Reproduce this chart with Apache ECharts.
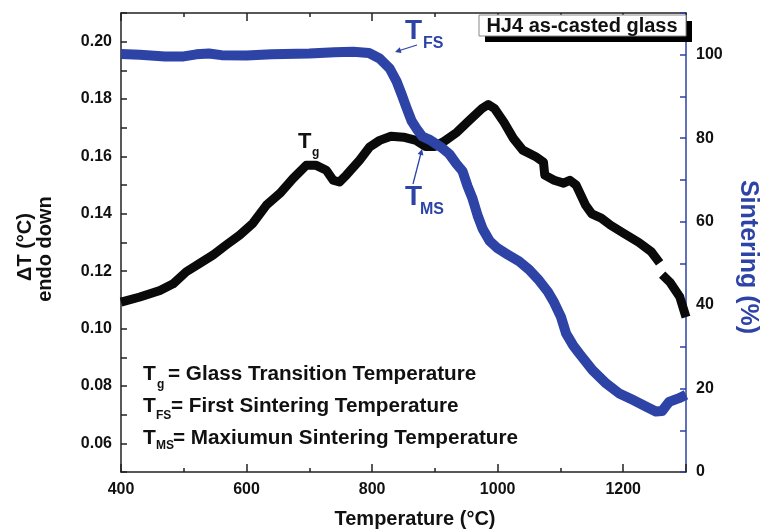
<!DOCTYPE html>
<html>
<head>
<meta charset="utf-8">
<script src="https://cdn.jsdelivr.net/npm/echarts@6/dist/echarts.min.js"></script>
<style>
  html, body { margin: 0; padding: 0; background: #fff; }
  #chart { width: 762px; height: 530px; }
</style>
</head>
<body>
<div id="chart"></div>
<script>
// DTA curve, left axis (ΔT, °C)
const dtaTemp = [400, 430, 462, 483, 504, 526, 547, 568, 589, 610, 632, 653, 674, 695, 711,
  727, 738, 748, 759, 780, 796, 812, 830, 850, 870, 885, 900, 915, 935, 955, 975, 985, 995,
  1010, 1025, 1040, 1060, 1073, 1075, 1090, 1105, 1115, 1125, 1140, 1150, 1165, 1180, 1200,
  1225, 1245, 1258, 1260, 1262, 1275, 1290, 1300];
const dtaValue = [0.1092, 0.111, 0.1133, 0.1156, 0.1198, 0.1228, 0.1257, 0.1292, 0.1326, 0.1367,
  0.1431, 0.1471, 0.1523, 0.1569, 0.1569, 0.1552, 0.1517, 0.1511, 0.1535, 0.1587, 0.1633, 0.1656,
  0.167, 0.1667, 0.1656, 0.1635, 0.1635, 0.1653, 0.1684, 0.1726, 0.1767, 0.1781, 0.1767, 0.1719,
  0.1663, 0.1622, 0.160, 0.158, 0.1535, 0.1517, 0.1507, 0.1517, 0.150, 0.143, 0.140, 0.1385,
  0.136, 0.1333, 0.130, 0.1267, 0.1229, null, 0.1188, 0.116, 0.1111, 0.104];

// sintering curve, right axis (%)
const sinTemp = [400, 430, 470, 500, 520, 540, 560, 600, 640, 700, 740, 770, 795, 812, 828,
  839, 847, 855, 863, 872, 880, 892, 902, 912, 923, 934, 944, 952, 960, 968, 976, 987, 1000,
  1015, 1034, 1050, 1066, 1080, 1090, 1101, 1109, 1120, 1130, 1151, 1173, 1193, 1215, 1236,
  1252, 1262, 1268, 1273, 1289, 1300];
const sinValue = [100.2, 100.0, 99.6, 99.6, 100.1, 100.3, 99.9, 99.8, 100.1, 100.3, 100.6, 100.7,
  100.4, 99.1, 96.7, 93.6, 90.5, 87.2, 84.1, 82.0, 80.4, 79.6, 78.6, 77.6, 76.2, 73.9, 72.1, 68.5,
  65.5, 61.5, 58.3, 55.4, 53.6, 52.2, 50.5, 48.5, 45.9, 43.2, 40.6, 37.1, 33.2, 30.4, 28.4, 24.4,
  21.2, 18.9, 17.3, 15.7, 14.5, 14.6, 15.8, 16.8, 17.7, 18.5];

// tick labels
const xTicks = [400, 600, 800, 1000, 1200];
const leftTicks = [0.06, 0.08, 0.10, 0.12, 0.14, 0.16, 0.18, 0.20];
const rightTicks = [0, 20, 40, 60, 80, 100];

const BLUE = '#2d43a6';
const AXIS = '#222';
const FONT = '"Liberation Sans", Arial, sans-serif';

const chart = echarts.init(document.getElementById('chart'));

const labelStyle = { fontSize: 16, fontWeight: 'bold', color: '#111', fontFamily: FONT };

function xAxisOf(position, interval, tickLen, withLabel, withLine) {
  return {
    type: 'value', min: 400, max: 1300, interval: interval, position: position,
    axisLine: { show: withLine, onZero: false, lineStyle: { color: AXIS, width: 1.5 } },
    axisTick: { show: true, inside: true, length: tickLen, lineStyle: { color: AXIS, width: 1.5 } },
    axisLabel: withLabel ? Object.assign({
      margin: 10,
      formatter: v => xTicks.includes(v) ? String(v) : ''
    }, labelStyle) : { show: false },
    splitLine: { show: false }
  };
}

// helper for text pieces of the annotations
function txt(x, y, s, size, color, align) {
  return {
    type: 'text', x: x, y: y, z: 100,
    style: {
      text: s, fill: color, font: 'bold ' + size + 'px ' + FONT,
      textAlign: align || 'left', textVerticalAlign: 'middle'
    }
  };
}

const option = {
  animation: false,
  backgroundColor: '#fff',
  grid: { left: 121, right: 76, top: 13, bottom: 58 },
  xAxis: [
    xAxisOf('bottom', 200, 8, true, true),
    xAxisOf('bottom', 100, 4, false, false),
    xAxisOf('top', 200, 8, false, true),
    xAxisOf('top', 100, 4, false, false)
  ],
  yAxis: [
    {
      type: 'value', min: 0.05, max: 0.21, interval: 0.01, position: 'left',
      axisLine: { show: true, onZero: false, lineStyle: { color: AXIS, width: 1.5 } },
      axisTick: { inside: true, length: 6, lineStyle: { color: AXIS, width: 1.5 } },
      axisLabel: Object.assign({
        margin: 9,
        formatter: v => leftTicks.some(t => Math.abs(t - v) < 1e-6) ? v.toFixed(2) : ''
      }, labelStyle),
      splitLine: { show: false }
    },
    {
      type: 'value', min: 0, max: 110, interval: 10, position: 'right',
      axisLine: { show: true, onZero: false, lineStyle: { color: BLUE, width: 1.5 } },
      axisTick: { inside: true, length: 6, lineStyle: { color: BLUE, width: 1.5 } },
      axisLabel: Object.assign({
        margin: 10,
        formatter: v => rightTicks.includes(v) ? String(v) : ''
      }, labelStyle),
      splitLine: { show: false }
    }
  ],
  series: [
    {
      name: 'DTA', type: 'line', xAxisIndex: 0, yAxisIndex: 0,
      data: dtaTemp.map((t, i) => [t, dtaValue[i]]),
      showSymbol: false, connectNulls: false, z: 2,
      lineStyle: { color: '#0a0a0a', width: 9, join: 'round' }
    },
    {
      name: 'Sintering', type: 'line', xAxisIndex: 0, yAxisIndex: 1,
      data: sinTemp.map((t, i) => [t, sinValue[i]]),
      showSymbol: false, z: 3,
      lineStyle: { color: BLUE, width: 10, join: 'round' }
    }
  ],
  graphic: [
    // sample label box with its shadow
    { type: 'rect', z: 100, shape: { x: 485, y: 21, width: 207, height: 21 }, style: { fill: '#000' } },
    { type: 'rect', z: 101, shape: { x: 479, y: 15, width: 207, height: 21 },
      style: { fill: '#fff', stroke: '#888', lineWidth: 1 } },
    Object.assign(txt(582, 26, 'HJ4 as-casted glass', 20, '#111', 'center'), { z: 102 }),

    // T_FS
    txt(405, 31, 'T', 28, BLUE),
    txt(423, 44, 'FS', 16, BLUE),
    { type: 'line', z: 100, shape: { x1: 417, y1: 45, x2: 398, y2: 51 }, style: { stroke: BLUE, lineWidth: 1.3 } },
    { type: 'polygon', z: 100, shape: { points: [[395, 52], [401.6, 53.1], [399.8, 47.3]] }, style: { fill: BLUE } },

    // T_MS
    txt(405, 197, 'T', 28, BLUE),
    txt(420, 210, 'MS', 16, BLUE),
    { type: 'line', z: 100, shape: { x1: 413, y1: 184, x2: 421, y2: 153 }, style: { stroke: BLUE, lineWidth: 1.3 } },
    { type: 'polygon', z: 100, shape: { points: [[422, 149], [423.4, 155.6], [417.6, 154.1]] }, style: { fill: BLUE } },

    // T_g
    txt(298, 142, 'T', 22, '#111'),
    txt(312, 153, 'g', 12, '#111'),

    // definitions
    txt(143, 374.5, 'T', 21, '#111'),
    txt(157, 385, 'g', 12, '#111'),
    txt(168, 374.5, '= Glass Transition Temperature', 20.7, '#111'),
    txt(143, 406.5, 'T', 21, '#111'),
    txt(156, 416, 'FS', 12, '#111'),
    txt(171, 406.5, '= First Sintering Temperature', 20.7, '#111'),
    txt(143, 438.5, 'T', 21, '#111'),
    txt(156, 446, 'MS', 12, '#111'),
    txt(173, 438.5, '= Maxiumun Sintering Temperature', 20.7, '#111'),

    // axis titles
    Object.assign(txt(25, 247, 'ΔT (°C)', 20, '#111', 'center'), { rotation: Math.PI / 2 }),
    Object.assign(txt(45, 249, 'endo down', 20, '#111', 'center'), { rotation: Math.PI / 2 }),
    Object.assign(txt(748, 257, 'Sintering (%)', 25, BLUE, 'center'), { rotation: -Math.PI / 2 }),
    txt(415, 519, 'Temperature (°C)', 20, '#111', 'center')
  ]
};

chart.setOption(option);
</script>
</body>
</html>
